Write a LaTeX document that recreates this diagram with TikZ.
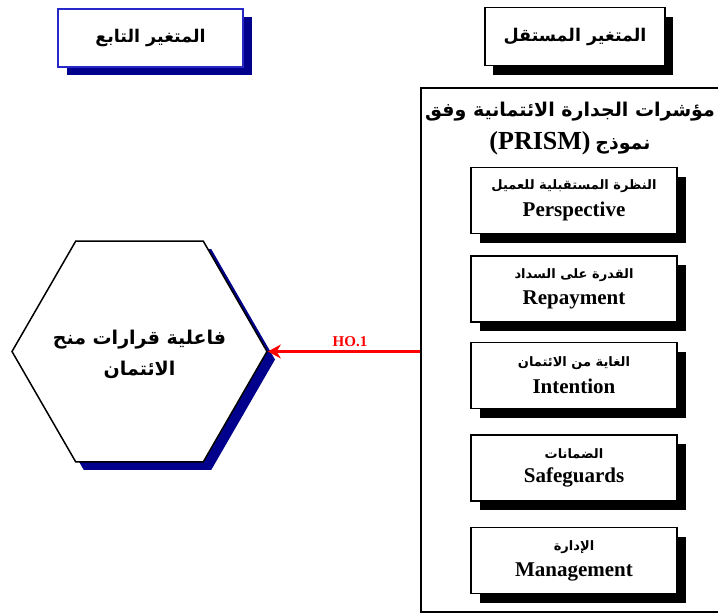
\documentclass[tikz,border=0pt]{standalone}
\usepackage{fontspec}
\setmainfont{Liberation Serif}
\newfontfamily\arfont[Script=Arabic]{DejaVu Sans}
\TeXXeTstate=1
\usetikzlibrary{shapes.geometric,shadows,positioning,arrows.meta}
\definecolor{navyshade}{RGB}{0,0,140}
\definecolor{frameblue}{RGB}{40,40,200}
\newcommand{\artext}[1]{{\arfont\bfseries\beginR #1\endR}}
\newcommand{\arsmall}[1]{{\fontsize{13}{15}\selectfont\artext{#1}}}
\newcommand{\enbig}[1]{{\fontsize{21}{24}\bfseries #1}}

\begin{document}
\begin{tikzpicture}[x=1pt,y=-1pt]
		\tikzstyle{HeadStyle} = [rectangle, draw, line width=1.2pt, fill=white, minimum height=58pt, font=\fontsize{17.5}{20}\selectfont]
		\tikzstyle{DimStyle}  = [rectangle, draw, line width=1.5pt, fill=white, minimum width=206pt, minimum height=66pt, align=center, inner sep=2pt,
		                         drop shadow={fill=black, opacity=1, shadow xshift=9pt, shadow yshift=-9pt}]

		\useasboundingbox (0,0) rectangle (718,613);
		% headers
		\node[HeadStyle, draw=frameblue, minimum width=185pt,
		      drop shadow={fill=navyshade, opacity=1, shadow xshift=9pt, shadow yshift=-8pt}] (Dep) at (150.5,38) {\artext{المتغير التابع}};
		\node[HeadStyle, line width=1.5pt, minimum width=180pt,
		      drop shadow={fill=black, opacity=1, shadow xshift=8pt, shadow yshift=-9pt}] (Indep) at (575,36.5) {\artext{المتغير المستقل}};

		% independent variable frame
		\node[draw, line width=2pt, minimum width=302pt, minimum height=524pt, anchor=north west, inner sep=0pt] (Frame) at (420,87) {};
		\node[align=center, font=\fontsize{19}{33}\selectfont] (Title) at (570,129)
		     {\artext{مؤشرات الجدارة الائتمانية وفق}\\ {\fontsize{26}{33}\bfseries (PRISM)} \artext{نموذج}};

		\node[DimStyle] (Persp) at (574,200.5) {\arsmall{النظرة المستقبلية للعميل}\\[8pt]\enbig{Perspective}};
		\node[DimStyle, below=21pt of Persp] (Repay) {\arsmall{القدرة على السداد}\\[8pt]\enbig{Repayment}};
		\node[DimStyle, below=19pt of Repay] (Intent) {\arsmall{الغاية من الائتمان}\\[8pt]\enbig{Intention}};
		\node[DimStyle, below=25pt of Intent] (Safe) {\arsmall{الضمانات}\\[8pt]\enbig{Safeguards}};
		\node[DimStyle, below=25pt of Safe] (Manage) {\arsmall{الإدارة}\\[8pt]\enbig{Management}};

		% dependent variable
		\node[regular polygon, regular polygon sides=6, minimum size=255pt, draw, line width=1.5pt, fill=white, inner sep=0pt,
		      drop shadow={fill=navyshade, opacity=1, shadow xshift=8pt, shadow yshift=-8pt}] (Effect) at (139.5,351.5) {};
		\node[align=center, font=\fontsize{19}{31}\selectfont] (EffectText) at (139.5,354) {\artext{فاعلية قرارات منح}\\ \artext{الائتمان}};

		\draw[red, line width=3pt, -{Stealth[length=13pt,width=14pt]}] (Frame.west |- Effect.east) -- node[above, font=\fontsize{15}{18}\bfseries, pos=0.46] {HO.1} (Effect.east);
	\end{tikzpicture}
\end{document}
